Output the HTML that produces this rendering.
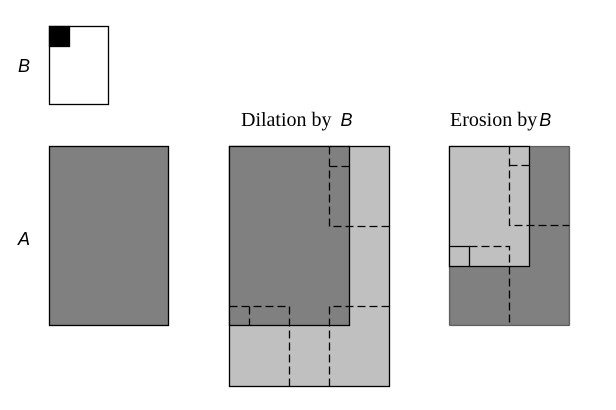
<!DOCTYPE html>
<html><head><style>body{margin:0;background:#fff}</style></head><body>
<svg width="616" height="405" xmlns="http://www.w3.org/2000/svg">
<rect x="0" y="0" width="616" height="405" fill="#fff"/>
<g stroke="#000" stroke-width="1.3">
<rect x="49.5" y="26.5" width="59" height="78" fill="#fff"/>
<rect x="49.5" y="26.5" width="20" height="20" fill="#000"/>
<rect x="49.5" y="146.5" width="119" height="179" fill="#808080"/>
<rect x="229.5" y="146.5" width="160" height="240" fill="#c0c0c0"/>
<rect x="229.5" y="146.5" width="120" height="179" fill="#808080"/>
<rect x="449.5" y="146.5" width="120" height="179" fill="#808080" stroke-dasharray="1 1"/>
<rect x="449.5" y="146.5" width="80" height="120" fill="#c0c0c0"/>
<path d="M449.5 246.5H469.5V266.5" fill="none"/>
</g>
<g stroke="#000" stroke-width="1.3" fill="none" stroke-dasharray="8 4">
<path d="M329.5 146.5V226.5H389.5M329.5 166.5H349.5"/>
<path d="M229.5 306.5H289.5V386.5M249.5 306.5V325.5"/>
<path d="M329.5 386.5V306.5H389.5"/>
<path d="M509.5 146.5V225.5H569.5M509.5 165.5H529.5"/>
<path d="M469.5 246.5H509.5V325.5"/>
</g>
<g font-family="Liberation Serif, serif" font-size="20" fill="#000">
<text x="241" y="126">Dilation by <tspan dx="4" font-family="Liberation Sans, sans-serif" font-style="italic" font-size="18">B</tspan></text>
<text x="450" y="126">Erosion by<tspan dx="2" font-family="Liberation Sans, sans-serif" font-style="italic" font-size="18">B</tspan></text>
</g>
<g font-family="Liberation Sans, sans-serif" font-style="italic" font-size="18" fill="#000">
<text x="18" y="72">B</text>
<text x="18" y="245">A</text>
</g>
</svg>
</body></html>
